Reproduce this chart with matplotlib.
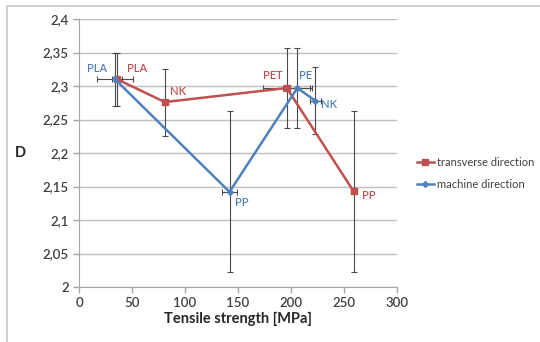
import matplotlib
matplotlib.use('Agg')
from matplotlib import pyplot as plt
from matplotlib.ticker import FuncFormatter, MultipleLocator
from matplotlib.patches import Rectangle

plt.rcParams['font.family'] = ['Lato', 'DejaVu Sans']

# transverse direction
trans_names = ['PLA', 'NK', 'PET', 'PP']
trans_x = [36, 81, 196, 259]
trans_y = [2.31, 2.276, 2.297, 2.143]
trans_xerr = [5, 3, 22, 2]
trans_yerr = [0.04, 0.05, 0.06, 0.12]

# machine direction
mach_names = ['PLA', 'PP', 'PE', 'NK']
mach_x = [34, 142, 206, 223]
mach_y = [2.31, 2.142, 2.297, 2.278]
mach_xerr = [17, 7, 14, 5]
mach_yerr = [0.04, 0.12, 0.06, 0.05]

red = '#C0504D'
blue = '#4F81BD'
err_col = '#4a4a4a'
grid_col = '#bfbfbf'
text_col = '#404040'


def comma(v, pos):
    s = f'{v:.2f}'.rstrip('0').rstrip('.')
    return s.replace('.', ',')


fig = plt.figure(figsize=(5.4, 3.42), dpi=100)
fig.patches.append(Rectangle((7 / 540, -0.02), 1.1, 1 - 6 / 342 + 0.02,
                             transform=fig.transFigure, fill=False,
                             edgecolor='#c8c8c8', linewidth=1.2))
ax = fig.add_axes([79 / 540, 1 - 287 / 342, 318 / 540, 268 / 342])

ax.errorbar(mach_x, mach_y, xerr=mach_xerr, yerr=mach_yerr, fmt='none',
            ecolor=err_col, elinewidth=0.8, capsize=2, capthick=0.8, zorder=2)
ax.errorbar(trans_x, trans_y, xerr=trans_xerr, yerr=trans_yerr, fmt='none',
            ecolor=err_col, elinewidth=0.8, capsize=2, capthick=0.8, zorder=2)

ax.plot(trans_x, trans_y, color=red, linewidth=1.8, marker='s', markersize=4.5,
        label='transverse direction', zorder=3)
ax.plot(mach_x, mach_y, color=blue, linewidth=1.8, marker='D', markersize=3,
        label='machine direction', zorder=3)

# point labels: (offset in points, ha, va)
trans_off = [((7, 4), 'left', 'bottom'), ((4, 4), 'left', 'bottom'),
             ((-3, 5), 'right', 'bottom'), ((6, -3), 'left', 'center')]
mach_off = [((-6, 4), 'right', 'bottom'), ((4, -8), 'left', 'center'),
            ((1, 5), 'left', 'bottom'), ((4, -3), 'left', 'center')]
for name, x, y, (off, ha, va) in zip(trans_names, trans_x, trans_y, trans_off):
    ax.annotate(name, (x, y), xytext=off, textcoords='offset points',
                ha=ha, va=va, color=red, fontsize=8, fontweight='semibold')
for name, x, y, (off, ha, va) in zip(mach_names, mach_x, mach_y, mach_off):
    ax.annotate(name, (x, y), xytext=off, textcoords='offset points',
                ha=ha, va=va, color=blue, fontsize=8, fontweight='semibold')

ax.set_xlim(0, 300)
ax.set_ylim(2, 2.4)
ax.xaxis.set_major_locator(MultipleLocator(50))
ax.yaxis.set_major_locator(MultipleLocator(0.05))
ax.yaxis.set_major_formatter(FuncFormatter(comma))
ax.grid(axis='y', color=grid_col, linewidth=1)
ax.set_axisbelow(True)
for side in ['top', 'right']:
    ax.spines[side].set_visible(False)
for side in ['left', 'bottom']:
    ax.spines[side].set_color('#a6a6a6')
ax.tick_params(axis='both', colors='#a6a6a6', length=4, width=1,
               labelcolor=text_col, labelsize=9.5)
for lbl in ax.get_xticklabels() + ax.get_yticklabels():
    lbl.set_fontweight('semibold')

ax.set_xlabel('Tensile strength [MPa]', fontsize=10.5, fontweight='bold',
              color='#262626', labelpad=2)
ax.set_ylabel('D', fontsize=10.5, fontweight='bold', color='#262626',
              rotation=0, labelpad=16, va='center')

ax.legend(loc='center left', bbox_to_anchor=(1.03, 0.425), frameon=False,
          fontsize=8, handlelength=1.6, handletextpad=0.2, labelspacing=1.0,
          labelcolor=text_col)

fig.savefig('out.png', dpi=100)
